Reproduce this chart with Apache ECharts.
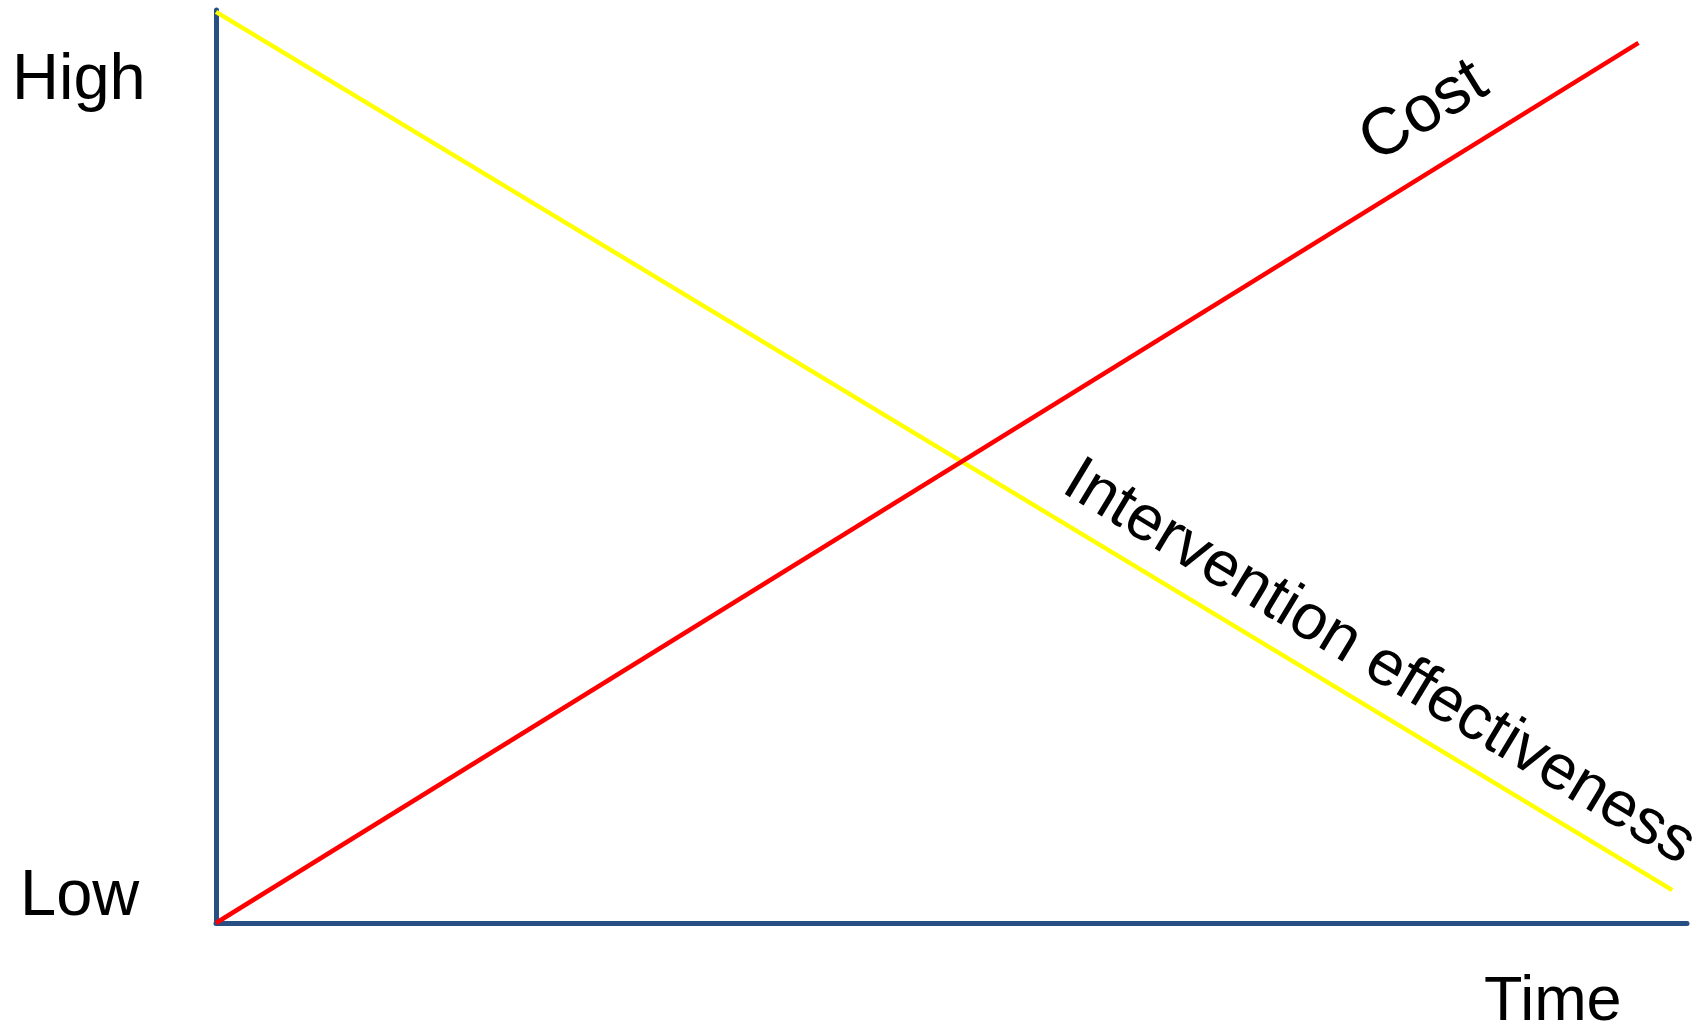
<!DOCTYPE html>
<html>
<head>
<meta charset="utf-8">
<script src="https://cdn.jsdelivr.net/npm/echarts@6/dist/echarts.min.js"></script>
<style>
  html, body { margin: 0; padding: 0; background: #fff; }
  #chart { width: 1699px; height: 1029px; }
</style>
</head>
<body>
<div id="chart"></div>
<script>
// start / end points of the two lines (time, level), axes run 0..100
let costPoints = [[0, 0], [96.7, 96.4]];
let effectPoints = [[0, 99.8], [99, 3.6]];
let levelLabels = ['High', 'Low'];
let timeLabel = 'Time';
let seriesNames = ['Cost', 'Intervention effectiveness'];

let myChart = echarts.init(document.getElementById('chart'));
let font = 'Liberation Sans, Arial, sans-serif';
let axisColor = '#284f83';

let option = {
  animation: false,
  grid: { left: 216, top: 10, width: 1471, height: 913 },
  xAxis: {
    type: 'value', min: 0, max: 100,
    axisLine: { onZero: false, lineStyle: { color: axisColor, width: 5 } },
    axisTick: { show: false }, axisLabel: { show: false }, splitLine: { show: false }
  },
  yAxis: {
    type: 'value', min: 0, max: 100,
    axisLine: { show: true, lineStyle: { color: axisColor, width: 5 } },
    axisTick: { show: false }, axisLabel: { show: false }, splitLine: { show: false }
  },
  series: [
    {
      name: seriesNames[1], type: 'line', data: effectPoints, symbol: 'none',
      lineStyle: { color: '#ffff00', width: 4.5 }
    },
    {
      name: seriesNames[0], type: 'line', data: costPoints, symbol: 'none',
      lineStyle: { color: '#ff0000', width: 4.5 }
    }
  ]
};
myChart.setOption(option);

// slope angles of the lines on screen, for the rotated labels
function angleOf(points) {
  let a = myChart.convertToPixel({ gridIndex: 0 }, points[0]);
  let b = myChart.convertToPixel({ gridIndex: 0 }, points[1]);
  return Math.atan2(a[1] - b[1], b[0] - a[0]);
}

function textEl(text, x, y, size, align, rotation) {
  return {
    type: 'text', x: x, y: y, rotation: rotation || 0,
    style: {
      text: text, fill: '#000', font: size + 'px ' + font,
      align: align, verticalAlign: 'middle'
    }
  };
}

myChart.setOption({
  graphic: [
    textEl(levelLabels[0], 12, 81, 65, 'left'),
    textEl(levelLabels[1], 20, 897, 65, 'left'),
    textEl(timeLabel, 1484, 1003, 63, 'left'),
    textEl(seriesNames[0], 1424, 112, 66, 'center', angleOf(costPoints)),
    textEl(seriesNames[1], 1379, 663, 64, 'center', angleOf(effectPoints))
  ]
});
</script>
</body>
</html>
